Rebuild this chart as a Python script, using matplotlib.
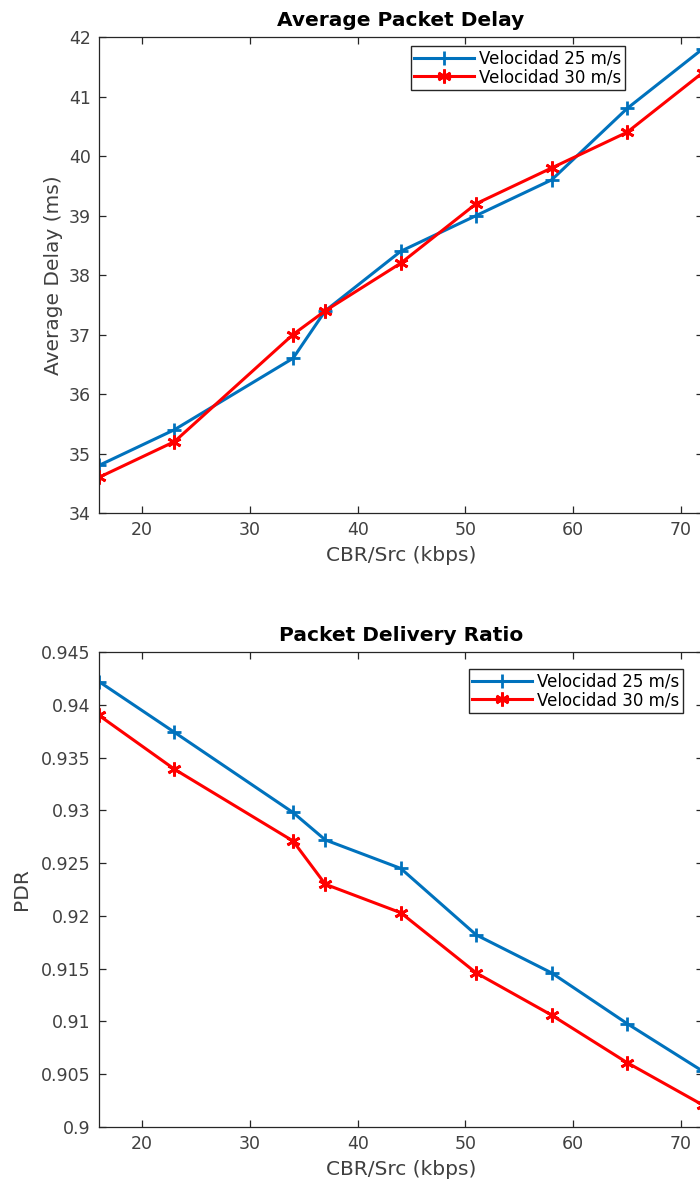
import matplotlib.pyplot as plt

# Data
cbr = [16, 23, 34, 37, 44, 51, 58, 65, 72]
delay_25 = [34.8, 35.4, 36.6, 37.4, 38.4, 39.0, 39.6, 40.8, 41.8]
delay_30 = [34.6, 35.2, 37.0, 37.4, 38.2, 39.2, 39.8, 40.4, 41.4]
pdr_25 = [0.9422, 0.9374, 0.9298, 0.9272, 0.9245, 0.9182, 0.9146, 0.9098, 0.9053]
pdr_30 = [0.9390, 0.9339, 0.9271, 0.9230, 0.9203, 0.9146, 0.9106, 0.9061, 0.9021]
labels = ["Velocidad 25 m/s", "Velocidad 30 m/s"]

BLUE, RED = "#0072BD", "#FF0000"
AXC = "#262626"
ASTER = (6, 2, 0)

plt.rcParams["font.family"] = "DejaVu Sans"

fig = plt.figure(figsize=(7, 11.84), dpi=100)
ax1 = fig.add_axes([0.1414, 0.5667, 0.8623, 0.4020])
ax2 = fig.add_axes([0.1414, 0.0481, 0.8623, 0.4012])


def style(ax):
    for s in ax.spines.values():
        s.set_color(AXC)
        s.set_linewidth(0.9)
    ax.tick_params(direction="in", top=True, right=True, length=5, width=0.9,
                   colors=AXC, labelsize=12.5, labelcolor="#404040", pad=6)
    ax.set_xlim(16, 72)
    ax.set_xticks([20, 30, 40, 50, 60, 70])
    ax.set_xlabel("CBR/Src (kbps)", fontsize=14.5, color="#404040", labelpad=5)


def legend(ax, anchor):
    ax.legend(loc="upper right", bbox_to_anchor=anchor, fontsize=12,
              fancybox=False, edgecolor=AXC, framealpha=1, handlelength=3.6,
              borderpad=0.2, labelspacing=0.05, handletextpad=0.3,
              borderaxespad=0)


ax1.plot(cbr, delay_25, color=BLUE, lw=2.2, marker="+", ms=10, mew=2, label=labels[0])
ax1.plot(cbr, delay_30, color=RED, lw=2.2, marker=ASTER, ms=10, mew=2, label=labels[1])
style(ax1)
ax1.set_ylim(34, 42)
ax1.set_yticks(range(34, 43))
ax1.set_ylabel("Average Delay (ms)", fontsize=14.5, color="#404040", labelpad=4)
ax1.set_title("Average Packet Delay", fontsize=14.5, fontweight="bold", pad=8)
legend(ax1, (0.8714, 0.981))

ax2.plot(cbr, pdr_25, color=BLUE, lw=2.2, marker="+", ms=10, mew=2, label=labels[0])
ax2.plot(cbr, pdr_30, color=RED, lw=2.2, marker=ASTER, ms=10, mew=2, label=labels[1])
style(ax2)
ax2.set_ylim(0.9, 0.945)
ax2.set_yticks([0.9, 0.905, 0.91, 0.915, 0.92, 0.925, 0.93, 0.935, 0.94, 0.945])
ax2.set_yticklabels(["0.9", "0.905", "0.91", "0.915", "0.92", "0.925", "0.93",
                     "0.935", "0.94", "0.945"])
ax2.set_ylabel("PDR", fontsize=14.5, color="#404040", labelpad=7)
ax2.set_title("Packet Delivery Ratio", fontsize=14.5, fontweight="bold", pad=8)
legend(ax2, (0.9675, 0.964))

fig.savefig("out.png", dpi=100)
